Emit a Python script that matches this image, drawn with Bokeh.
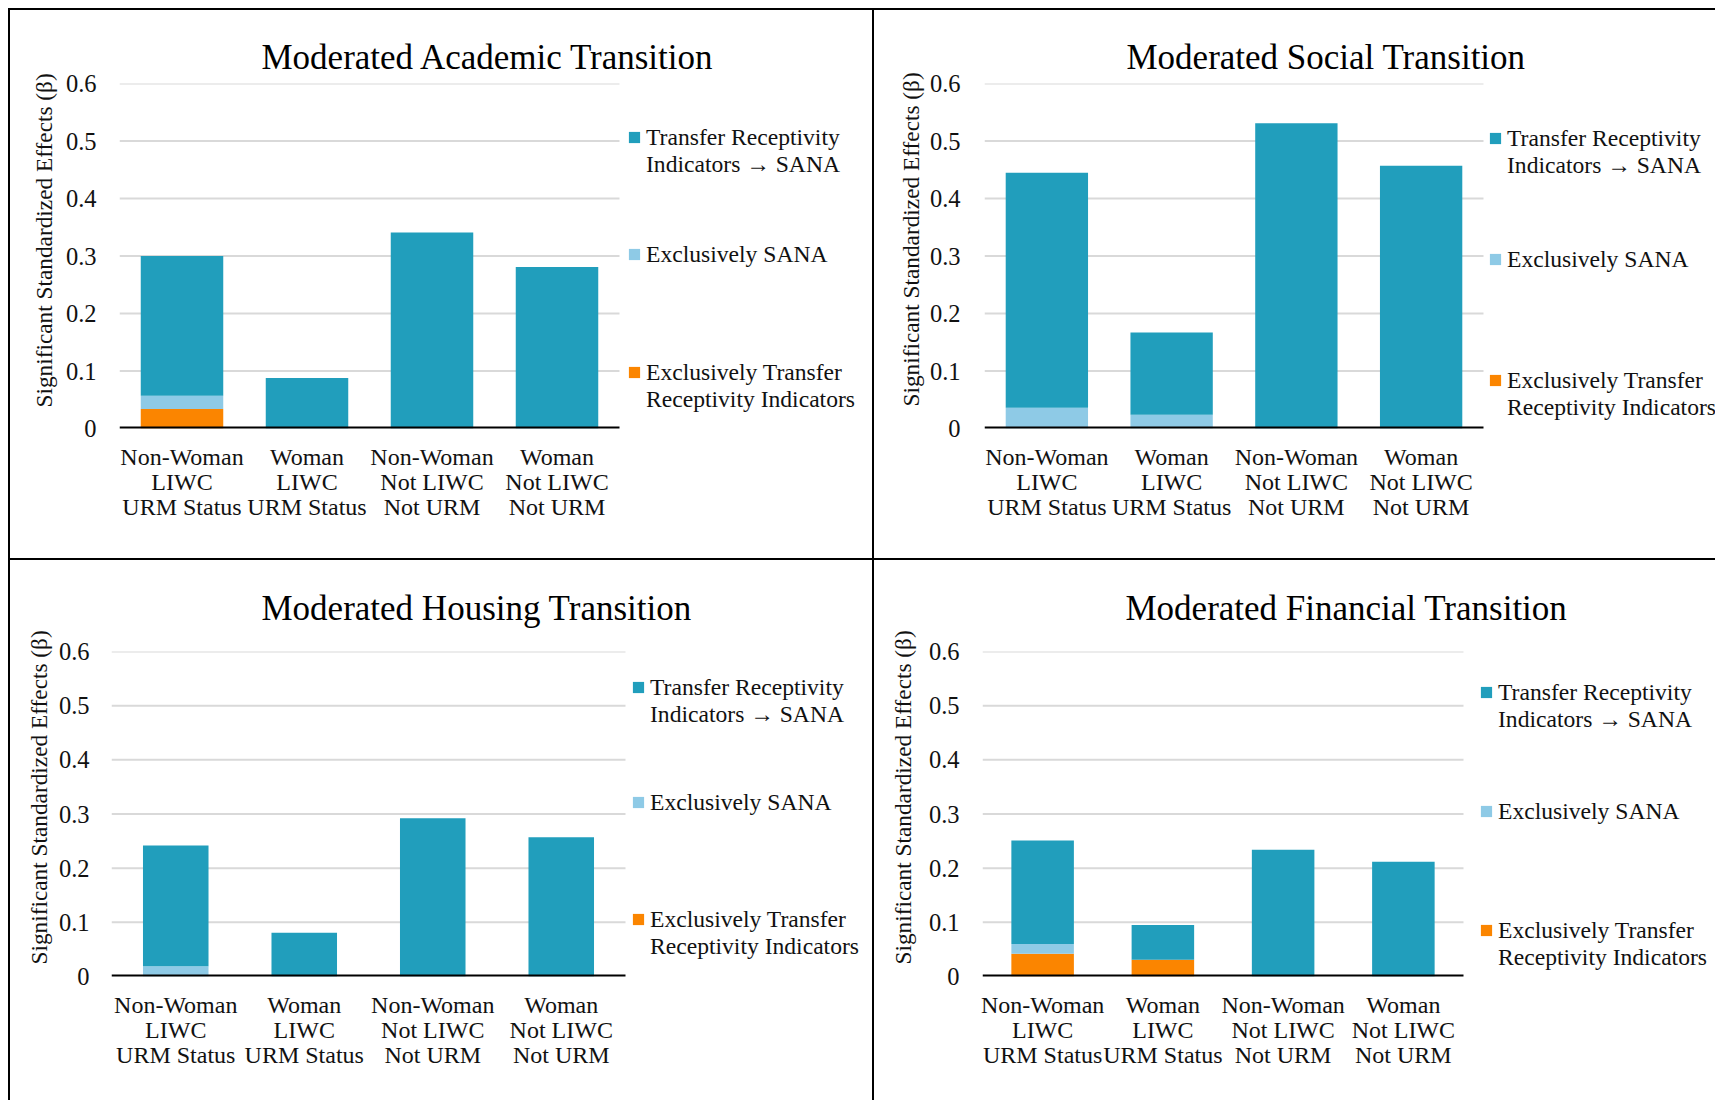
from bokeh.plotting import figure
from bokeh.models import (ColumnDataSource, Range1d, Legend, LegendItem,
                          NumeralTickFormatter, FixedTicker, Title, Spacer, Row, Column)
from bokeh.embed import file_html
from bokeh.resources import INLINE

# ---------------- data ----------------
categories = ["Non-Woman\nLIWC\nURM Status", "Woman\nLIWC\nURM Status",
              "Non-Woman\nNot LIWC\nNot URM", "Woman\nNot LIWC\nNot URM"]

series_labels = ["Exclusively Transfer\nReceptivity Indicators",
                 "Exclusively SANA",
                 "Transfer Receptivity\nIndicators \u2192 SANA"]

y_ticks = [0, 0.1, 0.2, 0.3, 0.4, 0.5, 0.6]
y_axis_title = "Significant Standardized Effects (\u03b2)"

titles = ["Moderated Academic Transition", "Moderated Social Transition",
          "Moderated Housing Transition", "Moderated Financial Transition"]

# stacked segments: exclusively TRI (bottom), exclusively SANA, TRI -> SANA (top)
academic_excl_tri = [0.034, 0.0, 0.0, 0.0]
academic_excl_sana = [0.023, 0.0, 0.0, 0.0]
academic_tri_sana = [0.243, 0.088, 0.341, 0.281]

social_excl_tri = [0.0, 0.0, 0.0, 0.0]
social_excl_sana = [0.036, 0.024, 0.0, 0.0]
social_tri_sana = [0.409, 0.143, 0.531, 0.457]

housing_excl_tri = [0.0, 0.0, 0.0, 0.0]
housing_excl_sana = [0.019, 0.0, 0.0, 0.0]
housing_tri_sana = [0.223, 0.081, 0.292, 0.257]

financial_excl_tri = [0.042, 0.031, 0.0, 0.0]
financial_excl_sana = [0.018, 0.0, 0.0, 0.0]
financial_tri_sana = [0.191, 0.064, 0.234, 0.212]

panel_data = [
    (academic_excl_tri, academic_excl_sana, academic_tri_sana),
    (social_excl_tri, social_excl_sana, social_tri_sana),
    (housing_excl_tri, housing_excl_sana, housing_tri_sana),
    (financial_excl_tri, financial_excl_sana, financial_tri_sana),
]

# ---------------- styles ----------------
colors = ["#fb8500", "#8ecae6", "#219ebc"]
FONT = "Liberation Serif"
TXT = "#111111"
ROW_H = 25  # legend text line pitch (px)

# per-panel layout (pixels): fig size, borders, bar-area width, bar width, title offset,
# title standoff, tick standoff, y-title standoff and offset,
# legend x (from frame left), legend first-line heights above the axis
layout_cfg = [
    dict(w=862, h=548, bl=109, bt=73, bb=130, area=500, bw=0.66, toff=142, tst=14,
         tso=17, yst=12, yoff=21, lx=508, lc=[288, 173, 53]),
    dict(w=841, h=548, bl=110, bt=73, bb=129, area=499, bw=0.66, toff=142, tst=14,
         tso=18, yst=6, yoff=22, lx=504, lc=[287, 168, 45]),
    dict(w=862, h=540, bl=101, bt=91, bb=123, area=514, bw=0.51, toff=150, tst=48,
         tso=16, yst=8, yoff=12, lx=520, lc=[286, 173, 54]),
    dict(w=841, h=540, bl=108, bt=90, bb=124, area=481, bw=0.52, toff=143, tst=47,
         tso=17, yst=19, yoff=12, lx=497, lc=[281, 164, 43]),
]


def make_panel(i):
    cfg = layout_cfg[i]
    tri, sana, both = panel_data[i]
    n = len(categories)
    xs = list(range(n))
    src = ColumnDataSource(dict(x=xs, tri=tri, sana=sana, both=both))

    # the frame spans the bar area plus the legend area to its right
    unit = cfg["area"] / n
    x_end = -0.5 + (cfg["w"] - cfg["bl"]) / unit

    p = figure(width=cfg["w"], height=cfg["h"], x_range=Range1d(-0.5, x_end),
               y_range=Range1d(y_ticks[0], y_ticks[-1]), output_backend="svg",
               toolbar_location=None,
               min_border_left=cfg["bl"], min_border_right=0,
               min_border_top=cfg["bt"], min_border_bottom=cfg["bb"])
    p.outline_line_color = None
    p.background_fill_color = "white"
    p.border_fill_color = "white"
    p.xgrid.grid_line_color = None
    p.ygrid.grid_line_color = None

    # horizontal gridlines over the bar area only
    p.segment(x0=[-0.5] * (len(y_ticks) - 1), x1=[n - 0.5] * (len(y_ticks) - 1),
              y0=y_ticks[1:], y1=y_ticks[1:], line_color="#d9d9d9", line_width=2)

    rs = p.vbar_stack(["tri", "sana", "both"], x="x", width=cfg["bw"], color=colors,
                      line_color=None, source=src)

    # category axis line (at value 0) over the bar area only
    p.segment(x0=[-0.5], x1=[n - 0.5], y0=[0], y1=[0], line_color="black", line_width=4)

    t = Title(text=titles[i], align="left", offset=cfg["toff"], standoff=int(cfg["tst"]),
              text_font=FONT, text_font_size="35px", text_font_style="normal",
              text_color="#000000")
    p.add_layout(t, "above")

    ya = p.yaxis[0]
    ya.ticker = FixedTicker(ticks=y_ticks)
    ya.formatter = NumeralTickFormatter(format="0.[0]")
    ya.axis_line_color = None
    ya.major_tick_line_color = None
    ya.minor_tick_line_color = None
    ya.major_label_standoff = int(cfg["tso"])
    ya.major_label_text_font = FONT
    ya.major_label_text_font_size = "24.5px"
    ya.major_label_text_color = TXT

    # value-axis title (rotated, left of the tick labels)
    yt = Title(text=y_axis_title, align="left", offset=cfg["yoff"], standoff=int(cfg["yst"]),
               text_font=FONT, text_font_size="23.3px", text_font_style="normal",
               text_color=TXT)
    p.add_layout(yt, "left")

    xa = p.xaxis[0]
    xa.ticker = FixedTicker(ticks=xs)
    xa.major_label_overrides = {x: c for x, c in zip(xs, categories)}
    xa.axis_line_color = None
    xa.major_tick_line_color = None
    xa.minor_tick_line_color = None
    xa.major_label_standoff = 9
    xa.major_label_text_font = FONT
    xa.major_label_text_font_size = "24px"
    xa.major_label_text_color = TXT
    xa.major_label_text_line_height = 0.967

    # invisible renderer used for the second text line of two-line legend entries
    blank = p.vbar(x=[], top=[], width=0.1, fill_alpha=0, line_alpha=0)

    # legend entries, top to bottom: TRI->SANA, Exclusively SANA, Exclusively TRI
    for k, s in enumerate([2, 1, 0]):
        lines = series_labels[s].split("\n")
        items = [LegendItem(label=lines[0], renderers=[rs[s]])]
        items += [LegendItem(label=ln, renderers=[blank]) for ln in lines[1:]]
        ybot = cfg["lc"][k] - ROW_H / 2 - (len(lines) - 1) * ROW_H
        leg = Legend(items=items, location=(cfg["lx"], ybot), orientation="vertical",
                     padding=0, margin=0, spacing=0,
                     border_line_color=None, background_fill_alpha=0,
                     glyph_width=14, glyph_height=14, label_standoff=5,
                     label_height=ROW_H,
                     label_text_font=FONT, label_text_font_size="23.6px",
                     label_text_color=TXT, label_text_line_height=0.85)
        p.add_layout(leg, "center")
    return p


panels = [make_panel(i) for i in range(4)]


def black(w, h):
    return Spacer(width=w, height=h, margin=0, styles={"background-color": "black"})


top_row = Row(children=[Spacer(width=8, height=548, margin=0), black(2, 548), panels[0],
                        black(2, 548), panels[1]], spacing=0, margin=0)
bot_row = Row(children=[Spacer(width=8, height=540, margin=0), black(2, 540), panels[2],
                        black(2, 540), panels[3]], spacing=0, margin=0)
line1 = Row(children=[Spacer(width=8, height=2, margin=0), black(1707, 2)], spacing=0, margin=0)
line2 = Row(children=[Spacer(width=8, height=2, margin=0), black(1707, 2)], spacing=0, margin=0)

page = Column(children=[Spacer(width=1715, height=8, margin=0), line1, top_row, line2, bot_row],
              spacing=0, margin=0)

open("out.html", "w").write(file_html(page, INLINE))
